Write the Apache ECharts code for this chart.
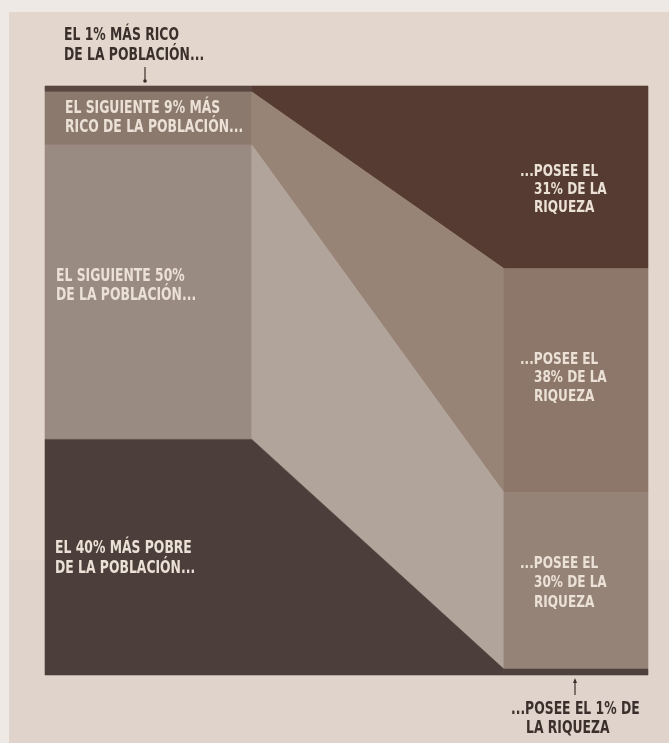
<!DOCTYPE html>
<html>
<head>
<meta charset="utf-8">
<script src="https://cdn.jsdelivr.net/npm/echarts@6/dist/echarts.min.js"></script>
<style>
html,body{margin:0;padding:0;background:#efe9e5;}
#c{width:669px;height:743px;}
</style>
</head>
<body>
<div id="c"></div>
<script>
// ---- data (top to bottom) ----
const populationShare = [1, 9, 50, 40];   // % of population (left column)
const wealthShare = [31, 38, 30, 1];      // % of wealth (right column)
const leftLabels = [
  null,
  ['EL SIGUIENTE 9% MÁS', 'RICO DE LA POBLACIÓN...'],
  ['EL SIGUIENTE 50%', 'DE LA POBLACIÓN...'],
  ['EL 40% MÁS POBRE', 'DE LA POBLACIÓN...']
];
const rightLabels = [
  ['...POSEE EL', '31% DE LA', 'RIQUEZA'],
  ['...POSEE EL', '38% DE LA', 'RIQUEZA'],
  ['...POSEE EL', '30% DE LA', 'RIQUEZA'],
  null
];
const topNote = ['EL 1% MÁS RICO', 'DE LA POBLACIÓN...'];
const bottomNote = ['...POSEE EL 1% DE', 'LA RIQUEZA'];

// ---- styles / layout ----
const COL_L = 34.3;   // right edge of left column (axis units)
const COL_R = 76.1;   // left edge of right column (axis units)
const leftColors  = ['#5a4741', '#8c796e', '#9a8b82', '#4c3f3b'];
const midColors   = ['#553b31', '#98837773'.slice(0,7), '#b1a49b', '#4c3f3b'];
const rightColors = ['#553b31', '#8c776a', '#958378', '#4e403c'];
const FONT = '"Liberation Sans Narrow", "DejaVu Sans Condensed", "Arial Narrow", sans-serif';
const INNER = '#ebe1d6';
const OUTER = '#3a2f2b';

function cumTop(arr, i) { let s = 0; for (let k = 0; k < i; k++) s += arr[k]; return 100 - s; }

const chart = echarts.init(document.getElementById('c'), null, {renderer: 'canvas'});

function txt(x, y, text, size, color, sx) {
  return {type: 'text', x: x, y: y, z: 100, scaleX: sx || 0.81,
    style: {text: text, fill: color, font: 'bold ' + size + 'px ' + FONT,
            verticalAlign: 'middle', align: 'left'}};
}

const graphics = [
  {type: 'rect', z: -10, shape: {x: 9, y: 12, width: 680, height: 760}, style: {fill: '#e3d6cc'}},
  {type: 'rect', z: -9, shape: {x: 9, y: 560, width: 680, height: 200}, style: {fill: '#ddd1cb', opacity: 0.6}},
  txt(64, 36, topNote[0], 17, OUTER),
  txt(64, 56, topNote[1], 17, OUTER),
  {type: 'line', z: 100, shape: {x1: 145, y1: 67, x2: 145, y2: 81}, style: {stroke: OUTER, lineWidth: 1.2}},
  {type: 'circle', z: 100, shape: {cx: 145, cy: 81, r: 1.8}, style: {fill: OUTER}},
  {type: 'line', z: 100, shape: {x1: 575, y1: 681, x2: 575, y2: 695}, style: {stroke: OUTER, lineWidth: 1.2}},
  {type: 'polygon', z: 100, shape: {points: [[575, 678], [573, 683], [577, 683]]}, style: {fill: OUTER}},
  txt(511, 710, bottomNote[0], 17, OUTER),
  txt(526, 729, bottomNote[1], 17, OUTER)
];

// inner labels
const leftPos = [null, [65, 109, 128], [56, 277, 296], [55, 549, 569]];
leftLabels.forEach((l, i) => {
  if (!l) return;
  graphics.push(txt(leftPos[i][0], leftPos[i][1], l[0], 17, INNER));
  graphics.push(txt(leftPos[i][0], leftPos[i][2], l[1], 17, INNER));
});
const rightPos = [[172, 190, 208], [360, 378, 397], [564, 583, 603]];
rightLabels.forEach((l, i) => {
  if (!l) return;
  graphics.push(txt(520, rightPos[i][0], l[0], 16, INNER, 0.84));
  graphics.push(txt(534, rightPos[i][1], l[1], 16, INNER, 0.84));
  graphics.push(txt(534, rightPos[i][2], l[2], 16, INNER, 0.84));
});

const option = {
  animation: false,
  backgroundColor: 'transparent',
  grid: {left: 45, top: 86, right: 21, bottom: 68},
  xAxis: {type: 'value', min: 0, max: 100, show: false},
  yAxis: {type: 'value', min: 0, max: 100, show: false},
  graphic: graphics,
  series: [{
    type: 'custom',
    clip: false,
    data: populationShare.map((v, i) => [i, v, wealthShare[i]]),
    encode: {x: -1, y: -1},
    renderItem: function (params, api) {
      const i = params.dataIndex;
      const lt = cumTop(populationShare, i), lb = lt - populationShare[i];
      const rt = cumTop(wealthShare, i), rb = rt - wealthShare[i];
      const p = (x, y) => api.coord([x, y]);
      const mk = (pts, c) => ({type: 'polygon', shape: {points: pts},
        style: {fill: c, stroke: c, lineWidth: 0.6}});
      const kids = [];
      if (leftColors[i] === midColors[i]) {
        kids.push(mk([p(0, lt), p(COL_L, lt), p(COL_R, rt), p(COL_R, rb), p(COL_L, lb), p(0, lb)], leftColors[i]));
        kids.push(mk([p(COL_R, rt), p(100, rt), p(100, rb), p(COL_R, rb)], rightColors[i]));
      } else if (midColors[i] === rightColors[i]) {
        kids.push(mk([p(0, lt), p(COL_L, lt), p(COL_L, lb), p(0, lb)], leftColors[i]));
        kids.push(mk([p(COL_L, lt), p(COL_R, rt), p(100, rt), p(100, rb), p(COL_R, rb), p(COL_L, lb)], midColors[i]));
      } else {
        kids.push(mk([p(0, lt), p(COL_L, lt), p(COL_L, lb), p(0, lb)], leftColors[i]));
        kids.push(mk([p(COL_L, lt), p(COL_R, rt), p(COL_R, rb), p(COL_L, lb)], midColors[i]));
        kids.push(mk([p(COL_R, rt), p(100, rt), p(100, rb), p(COL_R, rb)], rightColors[i]));
      }
      return {type: 'group', children: kids};
    }
  }]
};
chart.setOption(option);
</script>
</body>
</html>
